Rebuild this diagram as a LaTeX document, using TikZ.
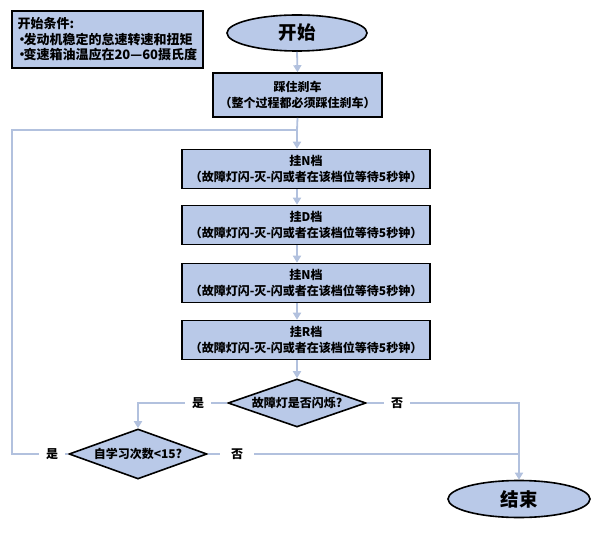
\documentclass[tikz,border=0pt]{standalone}
\usepackage{fontspec}
\setmainfont{Noto Sans CJK SC}
\usetikzlibrary{shapes.geometric,arrows.meta}
\definecolor{boxfill}{RGB}{185,201,232}
\definecolor{linec}{RGB}{178,193,222}
\newcommand{\mybul}{\makebox[6pt][l]{\hspace*{-2pt}•}}
\begin{document}
\begin{tikzpicture}[x=1pt,y=-1pt,
  box/.style={draw=black,line width=1.6pt,fill=boxfill,inner sep=0pt,align=center,
    font=\bfseries\fontsize{12}{16}\selectfont},
  term/.style={ellipse,draw=black,line width=1.6pt,fill=boxfill,inner sep=0pt,
    font=\bfseries\fontsize{18.5}{20}\selectfont},
  dec/.style={diamond,draw=black,line width=1.6pt,fill=boxfill,inner sep=0pt,
    font=\bfseries\fontsize{12}{14}\selectfont},
  conn/.style={draw=linec,line width=1.8pt},
  arr/.style={conn,-{Triangle[length=7pt,width=8pt]}},
  lab/.style={fill=white,inner sep=0pt,minimum width=26pt,minimum height=14pt,
    font=\bfseries\fontsize{12}{14}\selectfont}]
\useasboundingbox (0,0) rectangle (596,534);

% condition box
\node[box,align=left,anchor=north west,minimum width=191pt,minimum height=57pt,
  font=\bfseries\fontsize{13}{15.5}\selectfont] (cond) at (11,10)
  {开始条件:\\\mybul 发动机稳定的怠速转速和扭矩\\\mybul 变速箱油温应在20—60摄氏度};

% terminals
\node[term,minimum width=140pt,minimum height=36pt] (start) at (297,33) {开始};
\node[term,minimum width=142pt,minimum height=37pt] (end) at (519,499) {结束};

% boxes
\node[box,minimum width=169pt,minimum height=44pt] (b1) at (297.5,95)
  {踩住刹车\\（整个过程都必须踩住刹车）};
\node[box,minimum width=248pt,minimum height=39pt] (b2) at (306,169)
  {挂N档\\（故障灯闪-灭-闪或者在该档位等待5秒钟）};
\node[box,minimum width=248pt,minimum height=39pt] (b3) at (306,225)
  {挂D档\\（故障灯闪-灭-闪或者在该档位等待5秒钟）};
\node[box,minimum width=248pt,minimum height=39pt] (b4) at (306,283)
  {挂N档\\（故障灯闪-灭-闪或者在该档位等待5秒钟）};
\node[box,minimum width=248pt,minimum height=39pt] (b5) at (306,340)
  {挂R档\\（故障灯闪-灭-闪或者在该档位等待5秒钟）};

% decisions
\node[dec,shape aspect=2.87,minimum width=138pt,minimum height=48pt] (d1) at (297,403) {故障灯是否闪烁?};
\node[dec,shape aspect=2.76,minimum width=138pt,minimum height=50pt] (d2) at (138,454) {自学习次数<15?};

% coordinates
\coordinate (j1) at (297,130);
\coordinate (lc) at (12,130);
\coordinate (ll) at (12,454);
\coordinate (c1) at (138,403);
\coordinate (c2) at (519,403);
\coordinate (c3) at (519,454);

% main flow
\draw[arr] (start.south) -- (b1.north);
\draw[arr] (b1.south) -- (j1) -- (j1 |- b2.north);
\draw[arr] (b2.south -| j1) -- (j1 |- b3.north);
\draw[arr] (b3.south -| j1) -- (j1 |- b4.north);
\draw[arr] (b4.south -| j1) -- (j1 |- b5.north);
\draw[arr] (b5.south -| j1) -- (d1.north);

% decision 1
\draw[arr] (d1.west) -- (c1) -- (d2.north);
\draw[arr] (d1.east) -- (c2) -- (end.north);
\node[lab] (y1) at (198,403) {是};
\node[lab] (n1) at (397,403) {否};

% decision 2
\draw[conn] (d2.east) -- (c3);
\draw[conn] (d2.west) -- (ll) -- (lc) -- (j1);
\node[lab] (y2) at (52,454) {是};
\node[lab,minimum width=34pt] (n2) at (237,454) {否};
\end{tikzpicture}
\end{document}
